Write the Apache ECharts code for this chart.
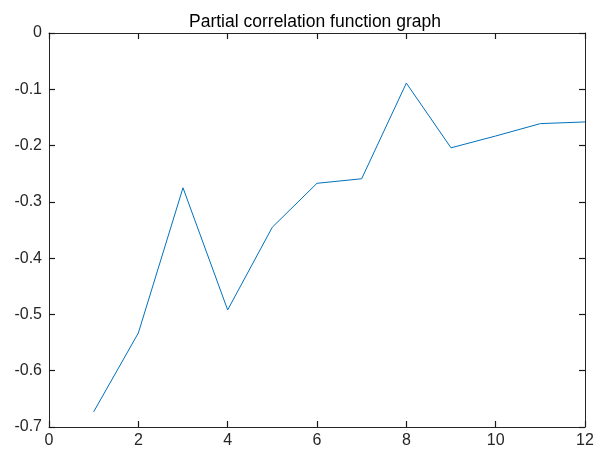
<!DOCTYPE html>
<html>
<head>
<meta charset="utf-8">
<script src="https://cdn.jsdelivr.net/npm/echarts@6/dist/echarts.min.js"></script>
<style>
  html, body { margin: 0; padding: 0; background: #fff; }
  #chart { width: 597px; height: 452px; }
</style>
</head>
<body>
<div id="chart"></div>
<script>
// Lag index and partial correlation values
const lags = [1, 2, 3, 4, 5, 6, 7, 8, 9, 10, 11, 12];
const pacf = [-0.673, -0.533, -0.275, -0.492, -0.345, -0.267, -0.259, -0.089, -0.204, -0.183, -0.161, -0.158];

const titleText = 'Partial correlation function graph';

const axisColor = '#262626';
const font = 'Liberation Sans, Arial, sans-serif';

const chart = echarts.init(document.getElementById('chart'), null, { renderer: 'canvas' });

// Boxed axes with inward-pointing ticks on all four sides
const axisLine = () => ({ show: true, onZero: false, lineStyle: { color: axisColor, width: 1 } });
const axisTick = () => ({ show: true, inside: true, length: 6, lineStyle: { color: '#1a1a1a', width: 1.2 } });

chart.setOption({
  animation: false,
  backgroundColor: '#ffffff',
  title: {
    text: titleText,
    left: 310,
    textAlign: 'center',
    top: 8,
    textStyle: { fontFamily: font, fontSize: 17.5, fontWeight: 'normal', color: '#000' }
  },
  grid: { left: 49, right: 12, top: 33, bottom: 25, containLabel: false },
  xAxis: [
    {
      type: 'value', min: 0, max: 12, interval: 2, position: 'bottom',
      axisLine: axisLine(), axisTick: axisTick(), splitLine: { show: false },
      axisLabel: { color: axisColor, fontFamily: font, fontSize: 16, margin: 6 }
    },
    {
      type: 'value', min: 0, max: 12, interval: 2, position: 'top',
      axisLine: axisLine(), axisTick: axisTick(), splitLine: { show: false },
      axisLabel: { show: false }
    }
  ],
  yAxis: [
    {
      type: 'value', min: -0.7, max: 0, interval: 0.1, position: 'left',
      axisLine: axisLine(), axisTick: axisTick(), splitLine: { show: false },
      axisLabel: {
        color: axisColor, fontFamily: font, fontSize: 16, margin: 7,
        formatter: v => {
          const r = Math.round(v * 10) / 10;
          return r === 0 ? '0' : String(r);
        }
      }
    },
    {
      type: 'value', min: -0.7, max: 0, interval: 0.1, position: 'right',
      axisLine: axisLine(), axisTick: axisTick(), splitLine: { show: false },
      axisLabel: { show: false }
    }
  ],
  series: [
    {
      type: 'line',
      xAxisIndex: 0,
      yAxisIndex: 0,
      data: lags.map((x, i) => [x, pacf[i]]),
      showSymbol: false,
      lineStyle: { color: '#0072BD', width: 1 },
      itemStyle: { color: '#0072BD' }
    }
  ]
});
</script>
</body>
</html>
